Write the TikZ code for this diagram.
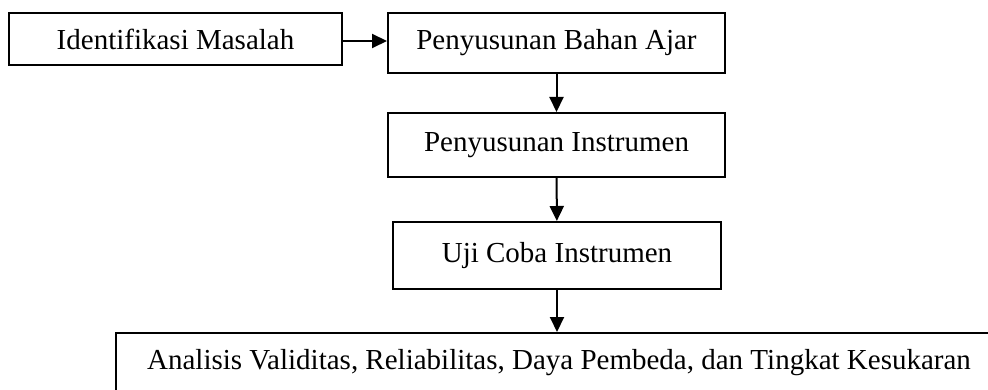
\documentclass[tikz,border=0pt]{standalone}
\usepackage{fontspec}
\setmainfont{Liberation Serif}
\usetikzlibrary{arrows.meta, positioning}

\begin{document}
\begin{tikzpicture}[x=1pt,y=-1pt,
  box/.style={rectangle,draw=black,line width=2pt,inner sep=0pt,align=center,font=\fontsize{29}{34}\selectfont},
  arr/.style={-{Triangle[length=15pt,width=14pt]},line width=2pt}
]
  \useasboundingbox (0,0) rectangle (988,390);
  \node[box,minimum width=333pt,minimum height=52pt](b1) at (175.5,39) {Identifikasi Masalah};
  \node[box,minimum width=337pt,minimum height=60pt](b2) at (556.5,43) {Penyusunan Bahan Ajar};
  \node[box,minimum width=337pt,minimum height=64pt](b3) at (556.5,145) {Penyusunan Instrumen};
  \node[box,minimum width=328pt,minimum height=67pt](b4) at (557,255.5) {Uji Coba Instrumen};
  \node[box,minimum width=886pt,minimum height=60pt](b5) at (559,363) {Analisis Validitas, Reliabilitas, Daya Pembeda, dan Tingkat Kesukaran};
  \draw[arr](b1.east |- 0,41)--(b2.west |- 0,41);
  \draw[arr](b2)--(b3);
  \draw[arr](b3)--(b4);
  \draw[arr](b4.south)--(b4.south |- b5.north);
\end{tikzpicture}
\end{document}
